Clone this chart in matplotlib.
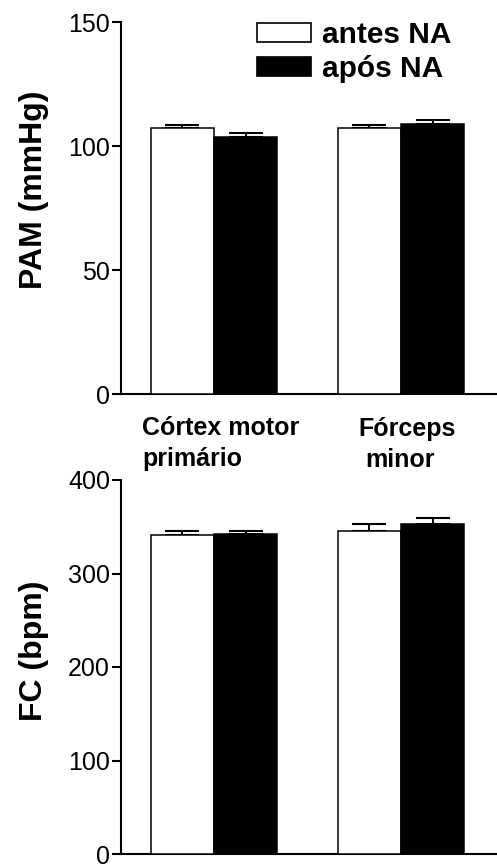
import matplotlib
matplotlib.use("Agg")
import matplotlib.pyplot as plt
from matplotlib.patches import Patch
import numpy as np

plt.rcParams['font.family'] = ['Liberation Sans', 'DejaVu Sans']

# ---- data ----
groups = ["Córtex motor\nprimário", "Fórceps\nminor"]
series = ["antes NA", "após NA"]
pam_antes = [107.1, 107.1]
pam_antes_err = [1.4, 1.4]
pam_apos = [103.5, 109.0]
pam_apos_err = [1.7, 1.5]
fc_antes = [341.2, 345.5]
fc_antes_err = [4.3, 7.5]
fc_apos = [341.9, 353.0]
fc_apos_err = [3.6, 6.4]
pam_ticks = [0, 50, 100, 150]
fc_ticks = [0, 100, 200, 300, 400]

W, H = 497, 865
fig = plt.figure(figsize=(W / 100, H / 100), dpi=100)

def ax_rect(x0, x1, ytop, ybot):
    return [x0 / W, 1 - ybot / H, (x1 - x0) / W, (ybot - ytop) / H]

ax1 = fig.add_axes(ax_rect(121, 497, 22, 394))
ax2 = fig.add_axes(ax_rect(121, 497, 480, 854))

x = np.arange(len(groups))
w = 0.337
spine_lw = 1.5
edge_lw = 1.1

def draw(ax, antes, antes_err, apos, apos_err, ymax, ticks):
    ax.bar(x - w / 2, antes, w, color='white', edgecolor='black', linewidth=edge_lw, zorder=3)
    ax.bar(x + w / 2, apos, w, color='black', edgecolor='black', linewidth=edge_lw, zorder=3)
    ax.errorbar(x - w / 2, antes, yerr=[np.zeros(len(antes)), antes_err], fmt='none',
                ecolor='black', elinewidth=1.4, capsize=12, capthick=1.5, zorder=2)
    ax.errorbar(x + w / 2, apos, yerr=[np.zeros(len(apos)), apos_err], fmt='none',
                ecolor='black', elinewidth=1.4, capsize=12, capthick=1.5, zorder=2)
    ax.set_xlim(-0.4973, 1.5134)
    ax.set_ylim(0, ymax)
    ax.set_yticks(ticks)
    ax.set_xticks([])
    for s in ['top', 'right']:
        ax.spines[s].set_visible(False)
    for s in ['left', 'bottom']:
        ax.spines[s].set_linewidth(spine_lw)
    ax.tick_params(axis='y', length=6.5, width=spine_lw, labelsize=18, pad=1.5)

draw(ax1, pam_antes, pam_antes_err, pam_apos, pam_apos_err, 150, pam_ticks)
draw(ax2, fc_antes, fc_antes_err, fc_apos, fc_apos_err, 400, fc_ticks)

# y labels
fig.text(34 / W, 1 - 190 / H, "PAM (mmHg)", rotation=90, ha='center', va='center',
         fontsize=23, fontweight='bold')
fig.text(34 / W, 1 - 651 / H, "FC (bpm)", rotation=90, ha='center', va='center',
         fontsize=23, fontweight='bold')

# group labels between the panels
g1 = groups[0].split("\n")
g2 = groups[1].split("\n")
gfs = 18
fig.text(142 / W, 1 - 435 / H, g1[0], ha='left', va='baseline', fontsize=gfs, fontweight='bold')
fig.text(142 / W, 1 - 466 / H, g1[1], ha='left', va='baseline', fontsize=gfs, fontweight='bold')
fig.text(407 / W, 1 - 436 / H, g2[0], ha='center', va='baseline', fontsize=gfs, fontweight='bold')
fig.text(400 / W, 1 - 467 / H, g2[1], ha='center', va='baseline', fontsize=gfs, fontweight='bold')

# legend
handles = [Patch(facecolor='white', edgecolor='black', linewidth=1.2),
           Patch(facecolor='black', edgecolor='black', linewidth=1.2)]
fs = 21.5
fpx = fs * 100 / 72
fig.legend(handles, series, loc='upper left', bbox_to_anchor=(257 / W, 1 - 21 / H),
           frameon=False, borderpad=0, borderaxespad=0, handlelength=54 / fpx,
           handleheight=19 / fpx, handletextpad=11 / fpx, labelspacing=0.2,
           prop={'size': fs, 'weight': 'bold'})

fig.savefig("out.png", dpi=100)
